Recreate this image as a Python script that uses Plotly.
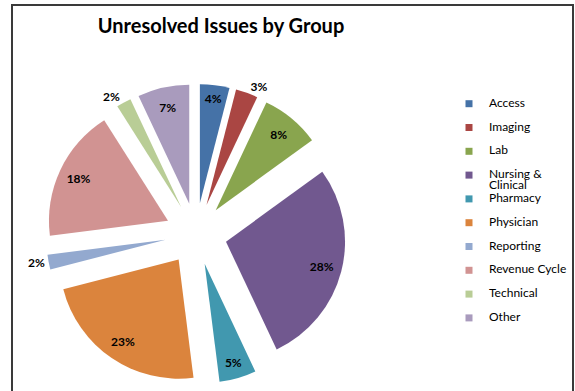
import plotly.graph_objects as go

# ---- data ----
categories = ["Access", "Imaging", "Lab", "Nursing & Clinical", "Pharmacy",
              "Physician", "Reporting", "Revenue Cycle", "Technical", "Other"]
values = [4, 3, 8, 28, 5, 23, 2, 18, 2, 7]
colors = ["#4572A7", "#AA4643", "#89A54E", "#71588F", "#4198AF",
          "#DB843D", "#93A9CF", "#D19392", "#B9CD96", "#A99BBD"]
label_positions = ["inside", "outside", "inside", "inside", "inside",
                   "inside", "outside", "inside", "outside", "inside"]
title_text = "Unresolved Issues by Group"

# ---- layout constants ----
W, H = 575, 391
FONT = "Lato"
pull = 0.26
dom_x = [46 / W, 346 / W]
dom_y = [1 - 384 / H, 1 - 84 / H]

fig = go.Figure()

# exploded pie (slices)
fig.add_trace(go.Pie(
    labels=categories, values=values,
    marker=dict(colors=colors, line=dict(width=0)),
    pull=[pull] * len(values),
    sort=False, direction="clockwise", rotation=0,
    textinfo="none", showlegend=False, hoverinfo="skip",
    automargin=False,
    domain=dict(x=dom_x, y=dom_y),
))

# same pie again, transparent, carrying the percentage labels
# (a ring so that plotly puts the inside labels near the rim, as in the original)
fig.add_trace(go.Pie(
    labels=categories, values=values,
    marker=dict(colors=["rgba(0,0,0,0)"] * len(values), line=dict(width=0)),
    pull=[pull] * len(values), hole=0.66,
    sort=False, direction="clockwise", rotation=0,
    texttemplate="%{percent:.0%}", textposition=label_positions,
    insidetextorientation="horizontal",
    textfont=dict(family=FONT, size=12, color="black", weight="bold"),
    insidetextfont=dict(family=FONT, size=12, color="black", weight="bold"),
    outsidetextfont=dict(family=FONT, size=12, color="black", weight="bold"),
    showlegend=False, hoverinfo="skip", automargin=False,
    domain=dict(x=dom_x, y=dom_y),
))


def legend_label(name, max_len=14):
    if len(name) > max_len and " " in name:
        cut = name.rfind(" ")
        lines = [name[:cut], name[cut + 1:]]
    else:
        lines = [name, " "]
    return "<br>".join(f'<span style="font-size:12px">{ln}</span>' for ln in lines)


# legend entries (no data points, only the key)
for cat, col in zip(categories, colors):
    fig.add_trace(go.Scatter(
        x=[None], y=[None], mode="markers",
        marker=dict(symbol="square", size=7, color=col),
        name=legend_label(cat), showlegend=True, hoverinfo="skip",
    ))

fig.update_layout(
    template="none",
    width=W, height=H,
    margin=dict(l=0, r=0, t=0, b=0, autoexpand=False),
    paper_bgcolor="white", plot_bgcolor="white",
    hovermode=False,
    title=dict(text=title_text, font=dict(family=FONT, size=20, color="black", weight="bold"),
               x=221 / W, xref="container", xanchor="center",
               y=1 - 26 / H, yref="container", yanchor="middle"),
    legend=dict(x=449 / W, xanchor="left", y=1 - 92 / H, yanchor="top",
                font=dict(family=FONT, size=8, color="black"),
                valign="top", bgcolor="rgba(0,0,0,0)", borderwidth=0, tracegroupgap=0),
    xaxis=dict(visible=False), yaxis=dict(visible=False),
    shapes=[dict(type="rect", xref="paper", yref="paper",
                 x0=12 / W, x1=573 / W, y0=-0.05, y1=1 - 5 / H,
                 line=dict(color="#3a3a3a", width=2), fillcolor="rgba(0,0,0,0)")],
)

fig.write_html("out.html")
